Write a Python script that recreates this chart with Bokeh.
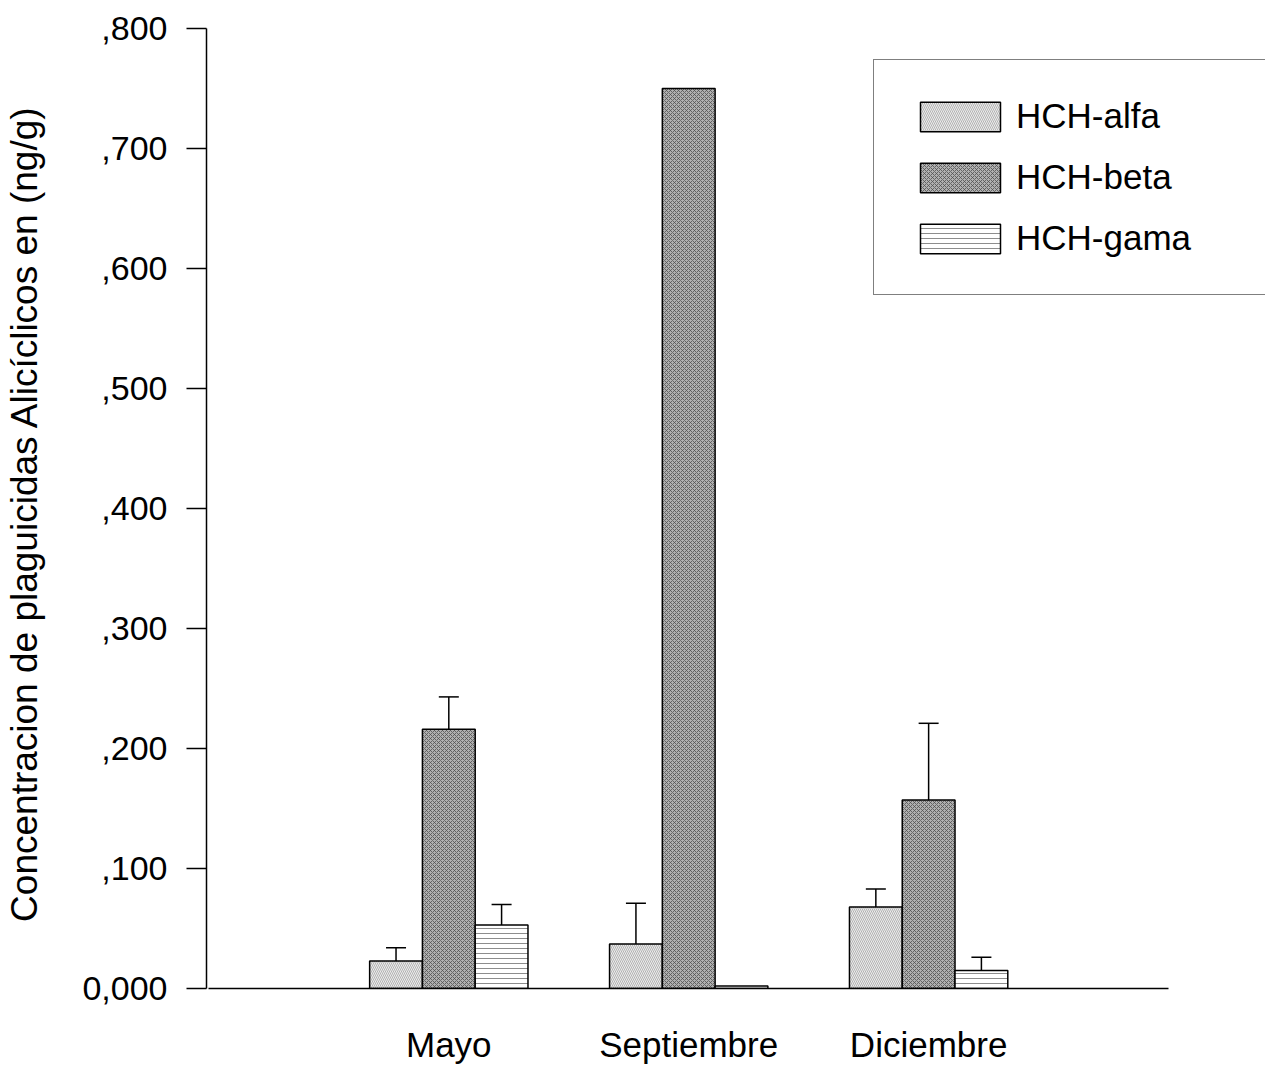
from bokeh.plotting import figure
from bokeh.models import (ColumnDataSource, Range1d, FixedTicker, CustomJSTickFormatter,
                          Whisker, TeeHead, Legend, LegendItem)
from bokeh.embed import file_html
from bokeh.resources import INLINE

# ---- data ----
categories = ["Mayo", "Septiembre", "Diciembre"]
series_names = ["HCH-alfa", "HCH-beta", "HCH-gama"]
alfa = [0.023, 0.037, 0.068]
beta = [0.216, 0.750, 0.157]
gama = [0.053, 0.002, 0.015]
alfa_err = [0.011, 0.034, 0.015]
beta_err = [0.027, 0.0, 0.064]
gama_err = [0.017, 0.0, 0.011]
y_ticks = [0.0, 0.1, 0.2, 0.3, 0.4, 0.5, 0.6, 0.7, 0.8]

FONT = "Liberation Sans"
BW = 0.22

p = figure(width=1265, height=1084, output_backend="svg", toolbar_location=None,
           x_range=Range1d(-0.01, 4 + 97 / 240), y_range=Range1d(0, 0.8),
           min_border_left=206, min_border_right=0, min_border_top=28, min_border_bottom=96)
p.outline_line_color = None
p.grid.visible = False
p.background_fill_color = "white"
p.border_fill_color = "white"

styles = [
    dict(fill_color="#ececec", hatch_pattern="left_diagonal_line", hatch_color="#9a9a9a",
         hatch_scale=4, hatch_weight=0.7),
    dict(fill_color="#b0b0b0", hatch_pattern="diagonal_cross", hatch_color="#505050",
         hatch_scale=4, hatch_weight=0.8),
    dict(fill_color="#ffffff", hatch_pattern="horizontal_line", hatch_color="#707070",
         hatch_scale=5, hatch_weight=0.8),
]
values = [alfa, beta, gama]
errs = [alfa_err, beta_err, gama_err]
offsets = [-BW, 0.0, BW]

items = []
wx, wlo, whi = [], [], []
for name, vals, er, off, st in zip(series_names, values, errs, offsets, styles):
    xs = [i + 1 + off for i in range(len(categories))]
    src = ColumnDataSource(dict(x=xs, top=vals))
    r = p.vbar(x="x", top="top", width=BW, source=src, line_color="black",
               line_width=1.5, **st)
    items.append(LegendItem(label=name, renderers=[r]))
    for x, v, e in zip(xs, vals, er):
        if e > 0:
            wx.append(x); wlo.append(v); whi.append(v + e)

wsrc = ColumnDataSource(dict(base=wx, lower=wlo, upper=whi))
p.add_layout(Whisker(source=wsrc, base="base", lower="lower", upper="upper",
                     line_color="black", line_width=1.5,
                     upper_head=TeeHead(size=20, line_color="black", line_width=1.5),
                     lower_head=None))

# y axis
ya = p.yaxis[0]
ya.ticker = FixedTicker(ticks=y_ticks)
ya.formatter = CustomJSTickFormatter(code="""
    if (Math.abs(tick) < 1e-9) return '0,000';
    return tick.toFixed(3).replace('.', ',').replace(/^0/, '');
""")
ya.minor_tick_line_color = None
ya.major_tick_in = 0
ya.major_tick_out = 20
ya.major_tick_line_width = 1.5
ya.axis_line_width = 1.5
ya.major_label_text_font = FONT
ya.major_label_text_font_size = "34px"
ya.major_label_text_color = "black"
ya.major_label_standoff = 19
ya.axis_label = "Concentracion de plaguicidas  Alicíclicos en (ng/g)"
ya.axis_label_text_font = FONT
ya.axis_label_text_font_size = "37px"
ya.axis_label_text_font_style = "normal"
ya.axis_label_text_color = "black"
ya.axis_label_standoff = 34

# x axis
xa = p.xaxis[0]
xa.bounds = (0, 4)
xa.ticker = FixedTicker(ticks=[i + 1 for i in range(len(categories))])
xa.major_label_overrides = {i + 1: c for i, c in enumerate(categories)}
xa.major_tick_in = 0
xa.major_tick_out = 0
xa.minor_tick_line_color = None
xa.axis_line_width = 1.5
xa.major_label_text_font = FONT
xa.major_label_text_font_size = "35px"
xa.major_label_text_color = "black"
xa.major_label_standoff = 36

legend = Legend(items=items, location=(667, 693), orientation="vertical",
                glyph_width=100, glyph_height=37, label_height=30, spacing=21,
                padding=36, label_standoff=6, label_width=260, margin=0,
                label_text_font=FONT, label_text_font_size="35px",
                label_text_color="black", border_line_color="black",
                border_line_width=1.5, background_fill_alpha=1.0)
p.add_layout(legend, "center")

open("out.html", "w").write(file_html(p, INLINE))
